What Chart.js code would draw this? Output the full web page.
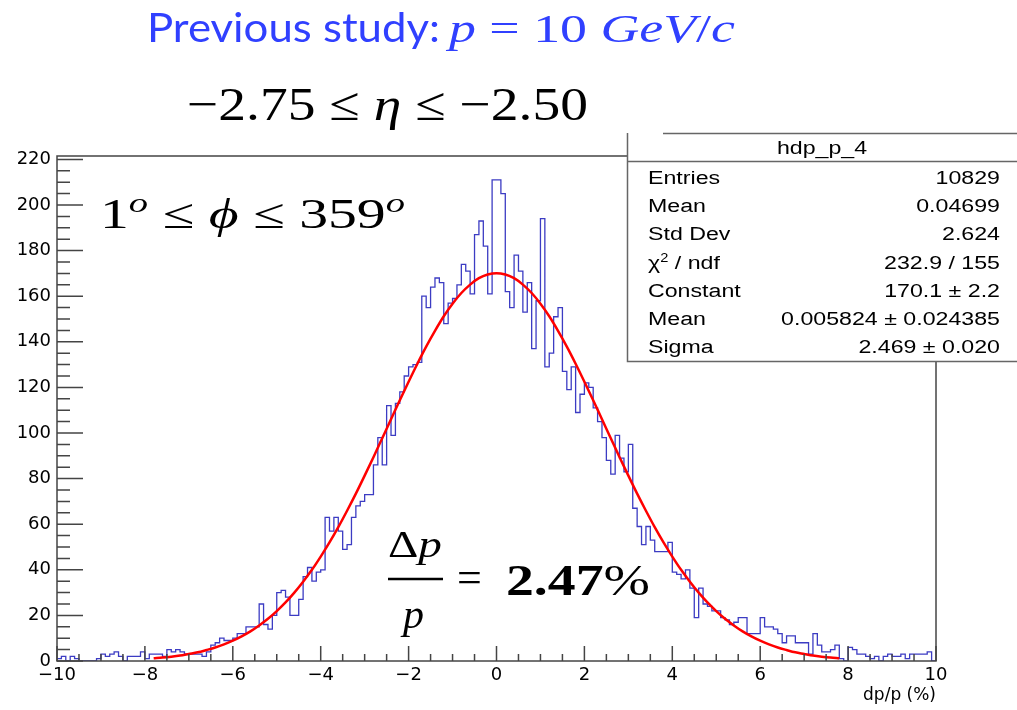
<!DOCTYPE html>
<html>
<head>
<meta charset="utf-8">
<title>hdp_p_4</title>
<script src="https://cdn.jsdelivr.net/npm/chart.js@4.4.1/dist/chart.umd.min.js"></script>
<style>
  html, body { margin: 0; padding: 0; background: #fff; }
  #wrap { position: relative; width: 1017px; height: 710px; overflow: hidden; }
  #chart { position: absolute; left: 0; top: 0; }
  #overlay { position: absolute; left: 0; top: 0; }
  .math { font-family: 'Liberation Serif', 'DejaVu Serif', serif; }
  .stat { font-family: 'Liberation Sans', Arial, sans-serif; font-size: 19px; fill: #000; }
</style>
</head>
<body>
<div id="wrap">
  <canvas id="chart" width="1017" height="710"></canvas>
  <svg id="overlay" width="1017" height="710" xmlns="http://www.w3.org/2000/svg">
    <!-- slide text -->
    <text x="147" y="42" font-family="Lato" font-size="40" fill="#3040ff" textLength="293" lengthAdjust="spacingAndGlyphs">Previous study:</text>
    <text class="math" x="449" y="42" font-size="40" fill="#3040ff" textLength="286" lengthAdjust="spacingAndGlyphs"><tspan font-style="italic">p</tspan> = 10 <tspan font-style="italic">GeV</tspan>/<tspan font-style="italic">c</tspan></text>
    <text class="math" x="187" y="120" font-size="47" textLength="401" lengthAdjust="spacingAndGlyphs">−2.75 ≤ <tspan font-style="italic">η</tspan> ≤ −2.50</text>
    <text class="math" x="100" y="228" font-size="42" textLength="305" lengthAdjust="spacingAndGlyphs">1<tspan font-style="italic" font-size="28" dy="-16">o</tspan><tspan dy="16"> ≤ </tspan><tspan font-style="italic">ϕ</tspan> ≤ 359<tspan font-style="italic" font-size="28" dy="-16">o</tspan></text>

    <!-- resolution -->
    <text class="math" x="388" y="557" font-size="37" textLength="54" lengthAdjust="spacingAndGlyphs">Δ<tspan font-style="italic">p</tspan></text>
    <line x1="388" y1="579" x2="443" y2="579" stroke="#000" stroke-width="2.5"/>
    <text class="math" x="403" y="628" font-size="42" font-style="italic">p</text>
    <text class="math" x="457" y="592" font-size="44">=</text>
    <text class="math" x="506" y="595" font-size="44" textLength="144" lengthAdjust="spacingAndGlyphs"><tspan font-weight="bold">2.47</tspan>%</text>

    <!-- stats box -->
    <rect x="627" y="133" width="400" height="228" fill="#fff"/>
    <path d="M663 133.5 H1017 M627.5 133 V361.5 H1017 M627 161.5 H1017" stroke="#666" stroke-width="1.5" fill="none"/>
    <text class="stat" transform="translate(822 154) scale(1.22 1)" text-anchor="middle">hdp_p_4</text>
    <text class="stat" transform="translate(648 184) scale(1.22 1)">Entries</text>
    <text class="stat" transform="translate(1000 184) scale(1.22 1)" text-anchor="end">10829</text>
    <text class="stat" transform="translate(648 212) scale(1.22 1)">Mean</text>
    <text class="stat" transform="translate(1000 212) scale(1.22 1)" text-anchor="end">0.04699</text>
    <text class="stat" transform="translate(648 240) scale(1.22 1)">Std Dev</text>
    <text class="stat" transform="translate(1000 240) scale(1.22 1)" text-anchor="end">2.624</text>
    <text class="stat" transform="translate(648 269) scale(1.22 1)">χ<tspan font-size="12" dy="-7">2</tspan><tspan dy="7"> / ndf</tspan></text>
    <text class="stat" transform="translate(1000 269) scale(1.22 1)" text-anchor="end">232.9 / 155</text>
    <text class="stat" transform="translate(648 297) scale(1.22 1)">Constant</text>
    <text class="stat" transform="translate(1000 297) scale(1.22 1)" text-anchor="end">170.1 ± 2.2</text>
    <text class="stat" transform="translate(648 325) scale(1.22 1)">Mean</text>
    <text class="stat" transform="translate(1000 325) scale(1.22 1)" text-anchor="end">0.005824 ± 0.024385</text>
    <text class="stat" transform="translate(648 353) scale(1.22 1)">Sigma</text>
    <text class="stat" transform="translate(1000 353) scale(1.22 1)" text-anchor="end">2.469 ± 0.020</text>
  </svg>
</div>
<script>
// histogram hdp_p_4: 200 bins of 0.1 from -10 to 10
const binLow = -10;
const binWidth = 0.1;
const counts = [
  1, 2, 0, 2, 1, 0, 0, 0, 0, 1,          // -10.0 .. -9.1
  3, 2, 3, 4, 2, 0, 2, 2, 2, 4,          // -9.0 .. -8.1
  1, 3, 3, 3, 2, 5, 4, 5, 4, 3,          // -8.0 .. -7.1
  3, 3, 3, 2, 4, 7, 8, 10, 9, 9,         // -7.0 .. -6.1
  10, 12, 12, 15, 15, 15, 25, 16, 14, 20,   // -6.0 .. -5.1
  30, 31, 28, 20, 20, 27, 37, 41, 35, 39,   // -5.0 .. -4.1
  40, 63, 57, 63, 57, 49, 51, 63, 68, 70,   // -4.0 .. -3.1
  73, 73, 86, 98, 86, 112, 99, 113, 118, 125,     // -3.0 .. -2.1
  129, 130, 131, 160, 155, 164, 168, 166, 148, 157, // -2.0 .. -1.1
  159, 165, 174, 171, 161, 187, 193, 182, 161, 211, // -1.0 .. -0.1
  211, 205, 162, 155, 178, 171, 153, 166, 137, 158, // 0.0 .. 0.9
  194, 129, 135, 151, 155, 127, 119, 129, 109, 117, // 1.0 .. 1.9
  122, 120, 111, 105, 98, 88, 82, 99, 89, 83,     // 2.0 .. 2.9
  95, 67, 59, 51, 59, 53, 48, 48, 48, 52,   // 3.0 .. 3.9
  39, 38, 36, 40, 32, 19, 32, 25, 24, 22,   // 4.0 .. 4.9
  22, 19, 18, 16, 17, 19, 19, 12, 12, 12,   // 5.0 .. 5.9
  19, 15, 15, 14, 12, 8, 11, 11, 8, 8,      // 6.0 .. 6.9
  8, 3, 12, 7, 4, 4, 5, 7, 1, 0,            // 7.0 .. 7.9
  6, 5, 3, 3, 2, 1, 2, 0, 2, 3,             // 8.0 .. 8.9
  2, 2, 3, 1, 3, 3, 3, 3, 4, 0              // 9.0 .. 9.9
];

// gaus fit curve, read every 0.2 from -7.8 to 7.8
const fitStart = -7.8;
const fitStep = 0.2;
const fitValues = [
  1.2, 1.5, 1.9, 2.4, 3.1, 3.8, 4.8, 5.9, 7.3, 8.9,
  10.8, 13.0, 15.6, 18.5, 21.9, 25.7, 30.0, 34.8, 40.0, 45.8,
  52.0, 58.7, 65.9, 73.4, 81.3, 89.4, 97.7, 106.0, 114.4, 122.5,
  130.4, 137.9, 144.8, 151.2, 156.7, 161.4, 165.1, 167.9, 169.5,
  170.1,
  169.5, 167.9, 165.1, 161.4, 156.7, 151.2, 144.8, 137.9, 130.4,
  122.5, 114.4, 106.0, 97.7, 89.4, 81.3, 73.4, 65.9, 58.7, 52.0,
  45.8, 40.0, 34.8, 30.0, 25.7, 21.9, 18.5, 15.6, 13.0, 10.8,
  8.9, 7.3, 5.9, 4.8, 3.8, 3.1, 2.4, 1.9, 1.5, 1.2
];

const xTickValues = [-10, -8, -6, -4, -2, 0, 2, 4, 6, 8, 10];
const yTickValues = [0, 20, 40, 60, 80, 100, 120, 140, 160, 180, 200, 220];

const histPoints = counts.map((c, i) => ({ x: binLow + i * binWidth, y: c }));
histPoints.push({ x: binLow + counts.length * binWidth, y: counts[counts.length - 1] });
const fitPoints = fitValues.map((v, i) => ({ x: fitStart + i * fitStep, y: v }));

const minus = v => (v < 0 ? '\u2212' + Math.abs(v) : String(v));

// ROOT style frame with inward ticks
const rootFrame = {
  id: 'rootFrame',
  afterDatasetsDraw(chart) {
    const { ctx, chartArea, scales } = chart;
    const { left, right, top, bottom } = chartArea;
    ctx.save();
    ctx.strokeStyle = '#444';
    ctx.lineWidth = 1.5;
    ctx.beginPath();
    for (let v = 0; v <= 220; v += 5) {
      const py = scales.y.getPixelForValue(v);
      const len = v % 20 === 0 ? 26 : 13;
      ctx.moveTo(left, py);
      ctx.lineTo(left + len, py);
    }
    for (let v = -10; v <= 10; v += 0.5) {
      const px = scales.x.getPixelForValue(v);
      const len = v % 2 === 0 ? 15 : 7;
      ctx.moveTo(px, bottom);
      ctx.lineTo(px, bottom - len);
    }
    ctx.stroke();
    ctx.strokeRect(left, top, right - left, bottom - top);
    ctx.restore();
  }
};

const tickFont = { family: 'DejaVu Sans', size: 18 };

new Chart(document.getElementById('chart'), {
  type: 'line',
  data: {
    datasets: [
      {
        label: 'gaus',
        data: fitPoints,
        borderColor: '#ff0000',
        borderWidth: 2.5,
        pointRadius: 0,
        cubicInterpolationMode: 'monotone',
        fill: false
      },
      {
        label: 'hdp_p_4',
        data: histPoints,
        stepped: 'before',
        borderColor: 'rgb(60, 60, 195)',
        borderWidth: 1.3,
        pointRadius: 0,
        fill: false
      }
    ]
  },
  options: {
    responsive: false,
    animation: false,
    layout: { padding: { left: 0, right: 81, top: 156, bottom: 0 } },
    plugins: {
      legend: { display: false },
      tooltip: { enabled: false }
    },
    scales: {
      x: {
        type: 'linear',
        min: -10,
        max: 10,
        afterBuildTicks: s => { s.ticks = xTickValues.map(v => ({ value: v })); },
        afterFit: s => { s.height = 49; },
        grid: { display: false, drawTicks: false },
        border: { display: false },
        ticks: {
          padding: 4,
          autoSkip: false,
          maxRotation: 0,
          color: '#000',
          font: tickFont,
          callback: v => minus(v)
        },
        title: {
          display: true,
          text: 'dp/p (%)',
          align: 'end',
          color: '#000',
          font: { family: 'DejaVu Sans', size: 17 },
          padding: { top: 0, bottom: 4 }
        }
      },
      y: {
        min: 0,
        max: 221.5,
        afterBuildTicks: s => { s.ticks = yTickValues.map(v => ({ value: v })); },
        afterFit: s => { s.width = 57; },
        grid: { display: false, drawTicks: false },
        border: { display: false },
        ticks: {
          padding: 6,
          autoSkip: false,
          color: '#000',
          font: tickFont
        }
      }
    }
  },
  plugins: [rootFrame]
});
</script>
</body>
</html>
